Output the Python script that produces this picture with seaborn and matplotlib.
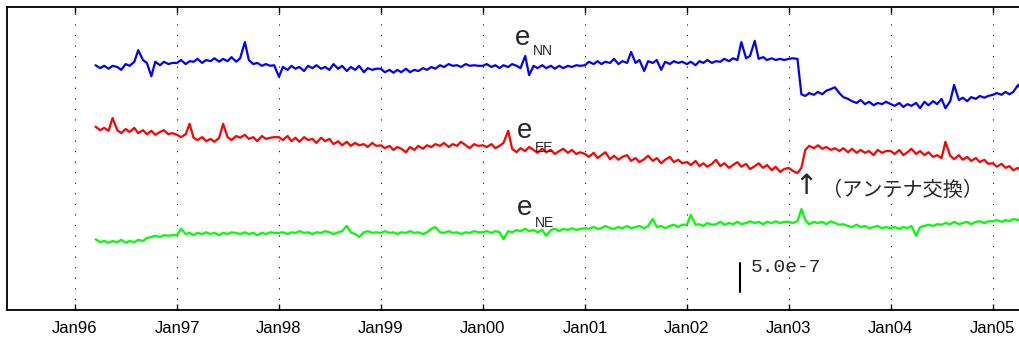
import numpy as np
import pandas as pd
import matplotlib
matplotlib.use("Agg")
import matplotlib.pyplot as plt
import matplotlib.dates as mdates
import matplotlib.transforms as mtransforms
import seaborn as sns

# ---------------- data (units of 1e-7 strain, plotted levels) ----------------
start_date = "1996-03-15"
end_date = "2005-04-15"

e_nn = [
    42.2, 41.7, 42.1, 41.6, 42.1, 41.9, 41.4, 42.4, 42.1, 42.8, 44.8, 43.1, 42.6, 40.3, 42.8, 42.2, 42.8, 42.4, 42.6,
    42.6, 43.1, 42.4, 42.9, 42.8, 43.3, 42.6, 43.1, 42.9, 43.4, 42.8, 43.3, 42.9, 43.6, 42.8, 43.4, 46.2, 43.1, 42.4, 42.6, 42.1, 42.4, 42.1, 42.2,
    40.2, 41.9, 41.4, 42.1, 41.6, 41.9, 41.2, 42.1, 41.7, 42.2, 41.6, 41.9, 41.4, 42.4, 41.6, 42.1, 41.2, 41.9, 41.4, 42.1, 41.0, 41.7, 41.4, 41.6,
    41.6, 41.0, 41.4, 40.9, 41.4, 41.0, 41.6, 41.0, 41.4, 41.2, 41.7, 41.4, 41.9, 41.6, 42.2, 41.9, 42.4, 42.1, 42.2, 41.9, 42.4, 42.1, 42.2, 42.1,
    42.1, 42.4, 41.9, 42.2, 41.7, 42.2, 41.9, 42.4, 42.1, 41.7, 43.8, 40.5, 42.1, 41.7, 42.2, 41.7, 42.1, 41.6, 42.1, 41.7, 42.1, 41.9, 42.2, 42.1,
    42.2, 42.8, 42.4, 42.9, 42.4, 42.8, 42.6, 43.3, 42.4, 42.9, 42.6, 44.5, 42.6, 43.1, 41.2, 42.9, 42.6, 43.1, 41.4, 42.8, 42.4, 42.9, 42.6, 42.8,
    42.4, 42.8, 42.2, 42.9, 42.6, 43.1, 42.6, 42.9, 42.8, 43.3, 42.9, 43.4, 43.1, 46.2, 43.4, 43.8, 46.4, 43.3, 43.6, 43.1, 43.4, 43.1, 43.3, 43.1,
    43.3, 43.4, 43.3, 37.2, 36.9, 37.4, 37.1, 37.6, 37.2, 37.8, 38.1, 38.4, 37.4, 36.7, 36.4, 36.0, 35.7, 36.2, 35.5, 35.9, 35.3, 35.7, 35.5, 35.9,
    35.5, 35.2, 35.7, 35.0, 35.5, 35.2, 35.7, 34.8, 35.9, 35.3, 36.0, 35.5, 36.4, 34.8, 36.0, 38.8, 36.2, 36.6, 36.0, 36.7, 36.4, 36.9, 36.6, 36.9,
    37.1, 37.4, 37.1, 37.6, 37.2, 37.6, 38.8, 37.9,
]

e_ee = [
    31.6, 31.0, 31.4, 30.9, 33.1, 31.0, 30.5, 31.2, 30.7, 31.4, 30.5, 31.0, 30.3, 30.9, 30.2, 30.7, 31.0, 30.3, 30.5,
    30.2, 29.8, 30.3, 32.1, 29.7, 29.3, 29.8, 29.1, 29.5, 29.0, 29.7, 32.1, 29.8, 29.3, 30.0, 29.7, 30.2, 29.5, 29.8, 29.1, 30.0, 29.5, 29.7, 29.8,
    29.8, 29.3, 30.0, 29.1, 29.7, 29.0, 29.8, 29.3, 29.5, 28.8, 29.7, 29.1, 29.5, 28.6, 29.1, 28.4, 29.0, 28.3, 28.8, 28.4, 28.6, 28.1, 28.8, 28.3,
    28.4, 27.9, 28.3, 27.6, 28.1, 27.8, 27.2, 28.1, 27.6, 28.3, 27.8, 28.4, 28.1, 28.6, 28.3, 28.8, 28.1, 28.6, 28.3, 29.0, 28.4, 27.9, 28.6, 28.3,
    28.4, 28.1, 28.6, 27.9, 28.3, 28.8, 30.9, 27.8, 27.2, 27.9, 27.4, 28.1, 27.6, 27.1, 27.8, 27.2, 27.6, 26.9, 27.4, 27.8, 27.1, 27.6, 26.9, 27.2,
    26.9, 26.4, 27.1, 26.2, 26.7, 27.2, 26.0, 26.6, 25.9, 26.4, 26.7, 25.7, 26.2, 25.5, 26.0, 26.6, 25.7, 26.2, 25.3, 25.9, 26.4, 25.5, 25.9, 25.3,
    25.5, 25.0, 25.7, 24.8, 25.3, 24.7, 25.2, 25.9, 24.8, 25.3, 24.5, 25.0, 25.5, 24.7, 25.2, 24.3, 24.8, 25.3, 24.5, 25.0, 24.1, 24.7, 23.8, 24.3,
    24.5, 24.0, 23.6, 24.5, 27.6, 28.3, 27.9, 28.4, 27.8, 28.1, 27.6, 27.9, 27.4, 27.9, 27.2, 27.8, 27.1, 27.6, 27.1, 27.4, 26.7, 27.6, 27.1, 27.4,
    27.4, 26.9, 27.6, 26.7, 27.2, 27.8, 26.9, 27.4, 26.7, 27.2, 26.4, 26.7, 26.2, 29.0, 26.6, 26.0, 26.7, 25.9, 26.4, 25.7, 26.2, 25.5, 25.9, 25.2,
    25.3, 24.7, 25.2, 24.5, 24.8, 24.1, 24.5, 23.8,
]

e_ne = [
    12.2, 11.7, 11.9, 11.6, 11.9, 11.7, 12.1, 11.6, 11.9, 11.7, 12.1, 11.9, 12.4, 12.6, 12.8, 12.6, 12.9, 12.8, 12.9,
    12.9, 14.0, 13.1, 13.3, 12.9, 13.3, 13.1, 13.4, 13.1, 13.3, 12.9, 13.3, 13.1, 13.4, 13.3, 13.1, 13.4, 13.1, 13.3, 12.9, 13.3, 13.1, 13.4, 13.3,
    13.3, 13.4, 13.1, 13.4, 13.3, 13.6, 13.3, 13.4, 13.1, 13.4, 13.3, 13.6, 13.4, 13.1, 13.4, 13.6, 14.5, 13.4, 13.1, 12.6, 13.4, 13.6, 13.3, 13.4,
    13.3, 13.6, 13.3, 13.4, 13.1, 13.4, 13.3, 13.6, 13.3, 13.4, 13.1, 13.4, 14.0, 14.3, 13.4, 13.3, 13.6, 13.3, 13.4, 13.1, 13.4, 13.3, 13.6, 13.4,
    13.4, 13.6, 13.3, 13.6, 13.4, 12.2, 13.6, 13.4, 13.8, 13.6, 14.0, 13.6, 13.8, 13.4, 13.8, 12.8, 13.8, 14.0, 13.6, 14.0, 13.8, 14.1, 13.8, 14.0,
    14.1, 14.0, 14.3, 14.0, 14.1, 14.5, 14.1, 14.0, 14.3, 14.1, 14.5, 14.1, 14.3, 14.5, 14.1, 14.5, 15.7, 14.3, 14.5, 14.1, 14.5, 14.7, 14.3, 14.7,
    14.7, 16.4, 14.7, 14.8, 14.5, 15.0, 14.7, 14.8, 15.2, 14.7, 15.0, 14.8, 15.2, 14.8, 15.0, 15.3, 15.0, 15.2, 14.8, 15.2, 15.0, 15.3, 15.0, 15.2,
    15.2, 15.0, 15.3, 17.4, 15.5, 14.8, 15.2, 15.0, 15.2, 14.8, 15.3, 15.0, 14.7, 14.8, 14.5, 14.3, 14.7, 14.3, 14.5, 14.1, 14.3, 14.5, 14.1, 14.3,
    14.1, 14.3, 14.0, 14.3, 14.1, 14.5, 12.8, 14.3, 14.5, 14.7, 14.5, 14.8, 14.7, 15.0, 14.8, 15.2, 14.8, 15.0, 15.2, 14.8, 15.2, 15.3, 15.0, 15.3,
    15.3, 15.5, 15.2, 15.5, 15.3, 15.7, 15.5, 15.9,
]

year_ticks = ["1996", "1997", "1998", "1999", "2000", "2001", "2002", "2003", "2004", "2005"]
scale_bar_value = 5.0  # in units of 1e-7
scale_label = "5.0e-7"
event_label = "（アンテナ交換）"

# ---------------- figure ----------------
sns.set_style("white")
plt.rcParams["font.family"] = ["Liberation Sans", "Noto Sans CJK JP", "DejaVu Sans"]

dates = pd.date_range(start_date, end_date, freq="SMS")
assert len(dates) == len(e_nn) == len(e_ee) == len(e_ne)

W, H = 1020, 343
fig = plt.figure(figsize=(W / 100, H / 100), dpi=100)
L, T, B, R = 7, 7, 310, 1020
ax = fig.add_axes([L / W, 1 - B / H, (R - L) / W, (B - T) / H])

for vals, col in [(e_nn, "#0000ff"), (e_ee, "#ff0000"), (e_ne, "#00ff00")]:
    sns.lineplot(x=dates, y=vals, ax=ax, color=col, linewidth=1.6,
                 estimator=None, sort=False, legend=False)

ax.set_xlim(pd.Timestamp("1995-05-03"), pd.Timestamp("2005-04-08"))
ax.set_ylim(0, 303 / 5.8)
ax.set_xticks([pd.Timestamp(y + "-01-01") for y in year_ticks])
ax.xaxis.set_major_formatter(mdates.DateFormatter("%b%y"))
ax.set_yticks([])
ax.set_xlabel("")
ax.set_ylabel("")
ax.tick_params(axis="x", direction="in", length=4, width=1.0, top=True,
               bottom=True, labelsize=12, pad=8, colors="black")
ax.grid(axis="x", color="black", linestyle=(0, (1, 8.5)), linewidth=0.8)
ax.grid(axis="y", visible=False)
for side in ["left", "top", "bottom"]:
    ax.spines[side].set_visible(True)
    ax.spines[side].set_color("black")
    ax.spines[side].set_linewidth(1.3)
ax.spines["right"].set_visible(False)

# component labels
def fx(px):
    return (px - L) / (R - L)

def fy(py):
    return (B - py) / (B - T)

for ex, ey, sx, sy, sub in [(515, 45, 533, 55, "NN"), (517, 138, 535, 152, "EE"), (517, 215, 535, 227, "NE")]:
    ax.text(fx(ex), fy(ey), "e", transform=ax.transAxes, fontsize=20,
            va="baseline", ha="left", family=["Liberation Sans"])
    ax.text(fx(sx), fy(sy), sub, transform=ax.transAxes, fontsize=10,
            va="baseline", ha="left", family=["Liberation Sans Narrow", "Liberation Sans"])

# antenna-change annotation
ax.text(fx(806), fy(186), "↑", transform=ax.transAxes, fontsize=20,
        ha="center", va="center", family=["DejaVu Sans"])
ax.text(fx(822), fy(190), event_label, transform=ax.transAxes, fontsize=14.5,
        ha="left", va="center", family=["Noto Sans CJK JP", "DejaVu Sans"])

# scale bar
blend = mtransforms.blended_transform_factory(ax.transAxes, ax.transData)
bar_bottom = (B - 292) / 5.8
ax.plot([fx(740), fx(740)], [bar_bottom, bar_bottom + scale_bar_value],
        transform=blend, color="black", linewidth=1.5)
ax.text(fx(751), fy(272), scale_label, transform=ax.transAxes, fontsize=14,
        ha="left", va="baseline", family=["Liberation Mono"])

fig.savefig("out.png", dpi=100)
